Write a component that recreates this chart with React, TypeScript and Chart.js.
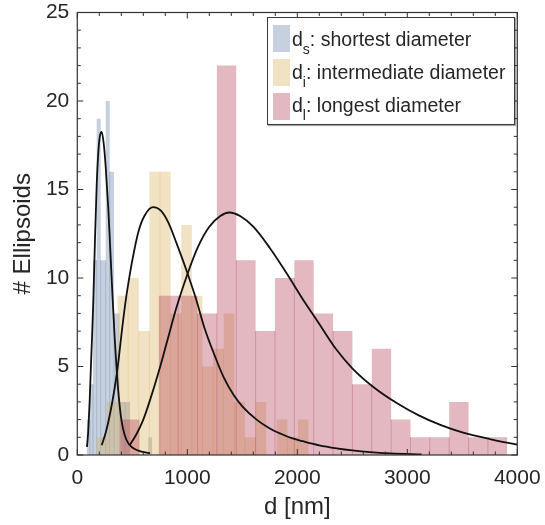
import React, { useEffect, useRef } from 'react';
import { Chart, registerables } from 'chart.js';

Chart.register(...registerables);

// ---- axis ticks ----
const xTickStep = 1000;
const xMinorStep = 200;
const yTickStep = 5;
const yMinorStep = 1;
const xMin = 0;
const xMax = 4000;
const yMin = 0;
const yMax = 25;

// ---- histogram: shortest diameter (bin edges in nm, counts) ----
const shortEdges = [85, 115, 143, 176, 213, 258, 295, 334, 384, 434, 480, 645, 682];
const shortCounts = [2, 4, 11, 19, 11, 20, 16, 8, 3, 3, 0, 1];

// ---- histogram: intermediate diameter ----
const interEdges = [173, 269.5, 366, 462.5, 559, 655.5, 752, 848.5, 945, 1041.5, 1138, 1234.5, 1331, 1427.5, 1524, 1620.5, 1717, 1813.5, 1910, 2006.5, 2103];
const interCounts = [1, 3, 9, 10, 7, 16, 16, 8, 13, 9, 5, 6, 8, 3, 1, 3, 0, 2, 1, 2];

// ---- histogram: longest diameter ----
const longEdges = [389, 565, 741, 917, 1093, 1269, 1445, 1621, 1797, 1973, 2149, 2325, 2501, 2677, 2853, 3029, 3205, 3381, 3557, 3733, 3909];
const longCounts = [2, 0, 9, 9, 8, 22, 11, 7, 10, 11, 8, 7, 4, 6, 2, 1, 1, 3, 1, 1];

// ---- fitted curves ----
const shortFitX = [88, 100, 112, 125, 136, 146, 160, 176, 190, 205, 222, 240, 258, 282, 300, 320, 340, 360, 380, 403, 430, 460, 494, 540, 600, 661];
const shortFitY = [0.45, 1.4, 3.0, 5.2, 7.0, 8.8, 12.0, 15.2, 17.0, 18.0, 18.25, 17.6, 16.3, 13.9, 11.6, 9.0, 6.6, 4.6, 3.1, 1.9, 1.15, 0.7, 0.45, 0.28, 0.17, 0.1];

const interFitX = [222, 260, 300, 340, 370, 405, 435, 464, 500, 555, 610, 690, 760, 830, 900, 1000, 1080, 1160, 1250, 1330, 1420, 1500, 1630, 1750, 1850, 1950, 2050, 2200, 2358, 2500, 2661, 2850, 3130];
const interFitY = [0.55, 1.3, 2.4, 3.8, 5.1, 7.0, 8.5, 9.7, 11.0, 12.6, 13.5, 14.0, 13.8, 13.1, 12.0, 10.3, 8.8, 7.1, 5.6, 4.4, 3.4, 2.75, 2.0, 1.5, 1.2, 0.95, 0.78, 0.55, 0.38, 0.26, 0.16, 0.09, 0.04];

const longFitX = [476, 540, 600, 661, 740, 820, 900, 1000, 1100, 1200, 1300, 1382, 1480, 1600, 1750, 1900, 2050, 2200, 2350, 2500, 2700, 2900, 3100, 3300, 3500, 3750, 4000];
const longFitY = [0.55, 1.2, 2.0, 3.1, 4.7, 6.5, 8.3, 10.2, 11.8, 12.9, 13.5, 13.7, 13.5, 12.9, 11.7, 10.3, 8.8, 7.4, 6.0, 4.9, 3.8, 2.95, 2.25, 1.7, 1.28, 0.9, 0.58];

// ---- styles ----
const FONT = "'Liberation Sans', Arial, Helvetica, sans-serif";
const TEXT = '#262626';
const blueRGB = '92,121,161';
const yellowRGB = '218,172,87';
const pinkRGB = '175,52,78';
const FILL_A = 0.35;
const EDGE_A = 0.3;

const legendItems = [
  { sub: 's', label: ': shortest diameter', rgb: blueRGB },
  { sub: 'i', label: ': intermediate diameter', rgb: yellowRGB },
  { sub: 'l', label: ': longest diameter', rgb: pinkRGB },
];

function stepData(edges: number[], counts: number[]) {
  return edges.map((e, i) => ({ x: e, y: i < counts.length ? counts[i] : 0 }));
}

function edgeData(edges: number[], counts: number[]) {
  const pts: { x: number; y: number | null }[] = [];
  for (let i = 1; i < counts.length; i++) {
    const h = Math.min(counts[i - 1], counts[i]);
    if (h > 0) {
      pts.push({ x: edges[i], y: 0 }, { x: edges[i], y: h }, { x: edges[i], y: null });
    }
  }
  return pts;
}

function curveData(xs: number[], ys: number[]) {
  return xs.map((x, i) => ({ x, y: ys[i] }));
}

function histSet(edges: number[], counts: number[], rgb: string, order: number) {
  return {
    data: stepData(edges, counts),
    stepped: true,
    fill: 'origin',
    backgroundColor: `rgba(${rgb},${FILL_A})`,
    borderColor: 'rgba(0,0,0,0)',
    borderWidth: 0,
    pointRadius: 0,
    order,
  };
}

function edgeSet(edges: number[], counts: number[], rgb: string, order: number) {
  return {
    data: edgeData(edges, counts),
    fill: false,
    borderColor: `rgba(${rgb},${EDGE_A})`,
    borderWidth: 1,
    pointRadius: 0,
    spanGaps: false,
    order,
  };
}

function fitSet(xs: number[], ys: number[], order: number) {
  return {
    data: curveData(xs, ys),
    fill: false,
    borderColor: '#111',
    borderWidth: 1.8,
    pointRadius: 0,
    cubicInterpolationMode: 'monotone',
    order,
  };
}

const framePlugin = {
  id: 'frameTicks',
  afterDraw(chart: any) {
    const { ctx, chartArea, scales } = chart;
    const { left, right, top, bottom } = chartArea;
    const xs = scales.x;
    const ys = scales.y;
    ctx.save();
    ctx.strokeStyle = '#333';
    ctx.lineWidth = 1.2;
    ctx.strokeRect(left, top, right - left, bottom - top);
    ctx.lineWidth = 1;
    ctx.beginPath();
    for (let v = xMin; v <= xMax; v += xMinorStep) {
      const px = xs.getPixelForValue(v);
      const len = v % xTickStep === 0 ? 6 : 3.5;
      ctx.moveTo(px, bottom);
      ctx.lineTo(px, bottom - len);
      ctx.moveTo(px, top);
      ctx.lineTo(px, top + len);
    }
    for (let v = yMin; v <= yMax; v += yMinorStep) {
      const py = ys.getPixelForValue(v);
      const len = v % yTickStep === 0 ? 6 : 3.5;
      ctx.moveTo(left, py);
      ctx.lineTo(left + len, py);
      ctx.moveTo(right, py);
      ctx.lineTo(right - len, py);
    }
    ctx.stroke();
    ctx.restore();
  },
};

export default function App() {
  const ref = useRef<HTMLCanvasElement | null>(null);

  useEffect(() => {
    document.body.style.margin = '0';
    const canvas = ref.current;
    if (!canvas) return;
    const chart = new Chart(canvas, {
      type: 'line',
      data: {
        datasets: [
          fitSet(shortFitX, shortFitY, 1),
          fitSet(interFitX, interFitY, 2),
          fitSet(longFitX, longFitY, 3),
          edgeSet(longEdges, longCounts, pinkRGB, 4),
          histSet(longEdges, longCounts, pinkRGB, 5),
          edgeSet(interEdges, interCounts, yellowRGB, 6),
          histSet(interEdges, interCounts, yellowRGB, 7),
          edgeSet(shortEdges, shortCounts, blueRGB, 8),
          histSet(shortEdges, shortCounts, blueRGB, 9),
        ] as any,
      },
      options: {
        animation: false,
        responsive: false,
        maintainAspectRatio: false,
        devicePixelRatio: 1,
        layout: { padding: { top: 12.5, right: 27.7, left: 0, bottom: 0 } },
        plugins: {
          legend: { display: false },
          tooltip: { enabled: false },
        },
        scales: {
          x: {
            type: 'linear',
            min: xMin,
            max: xMax,
            afterFit: (s: any) => {
              s.height = 70;
              s.paddingLeft = 0;
              s.paddingRight = 0;
            },
            grid: { display: false, drawTicks: false },
            border: { display: false },
            ticks: {
              stepSize: xTickStep,
              padding: 11,
              maxRotation: 0,
              color: TEXT,
              font: { family: FONT, size: 21 },
              callback: (v: any) => String(v),
            },
            title: {
              display: true,
              text: 'd [nm]',
              color: TEXT,
              font: { family: FONT, size: 24 },
              padding: { top: 0, bottom: 3 },
            },
          },
          y: {
            type: 'linear',
            min: yMin,
            max: yMax,
            afterFit: (s: any) => {
              s.width = 77.3;
              s.paddingTop = 0;
              s.paddingBottom = 0;
            },
            grid: { display: false, drawTicks: false },
            border: { display: false },
            ticks: {
              stepSize: yTickStep,
              padding: 8,
              color: TEXT,
              font: { family: FONT, size: 21 },
              callback: (v: any) => String(v),
            },
            title: {
              display: true,
              text: '# Ellipsoids',
              color: TEXT,
              font: { family: FONT, size: 24 },
              padding: { top: 9, bottom: 0 },
            },
          },
        },
      } as any,
      plugins: [framePlugin],
    });
    return () => chart.destroy();
  }, []);

  return (
    <div style={{ position: 'relative', width: 545, height: 525 }}>
      <canvas ref={ref} width={545} height={525} style={{ display: 'block' }} />
      <div
        style={{
          position: 'absolute',
          left: 267,
          top: 17,
          width: 248,
          height: 108,
          boxSizing: 'border-box',
          border: '1px solid #3a3a3a',
          boxShadow: '1px 1px 1px rgba(0,0,0,0.35)',
          background: '#fff',
          fontFamily: FONT,
          fontSize: 19.5,
          color: TEXT,
        }}
      >
        {legendItems.map((it, i) => (
          <React.Fragment key={it.sub}>
            <div
              style={{
                position: 'absolute',
                left: 5,
                top: 7 + i * 34,
                width: 17,
                height: 27,
                background: `rgba(${it.rgb},${FILL_A})`,
              }}
            />
            <div
              style={{
                position: 'absolute',
                left: 24,
                top: 11 + i * 33,
                lineHeight: '20px',
                whiteSpace: 'nowrap',
              }}
            >
              d
              <span style={{ fontSize: 14, position: 'relative', top: 8 }}>{it.sub}</span>
              {it.label}
            </div>
          </React.Fragment>
        ))}
      </div>
    </div>
  );
}
